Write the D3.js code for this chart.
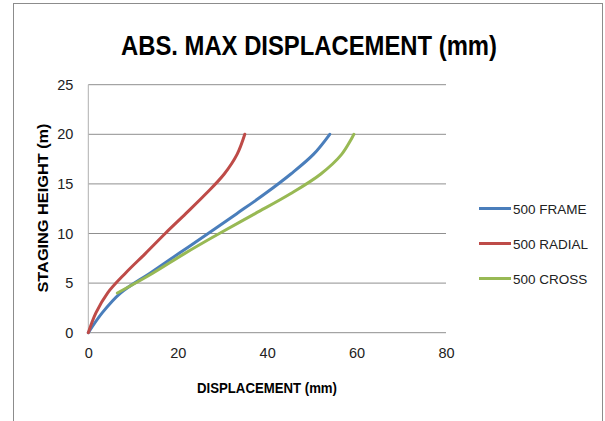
<!DOCTYPE html>
<html>
<head>
<meta charset="utf-8">
<script src="https://cdn.jsdelivr.net/npm/d3@7"></script>
<style>
  body { margin: 0; background: #fff; }
  text { font-family: "Liberation Sans Narrow", "Liberation Sans", "Open Sans", sans-serif; }
</style>
</head>
<body>
<figure id="chart" style="margin:0"></figure>
<script>
// staging heights (m) and displacement (mm)
const heights = [0, 2, 4, 6, 8, 10, 12, 14, 16, 18, 20];
const frameX  = [0, 3.1, 7.2, 13.8, 20.3, 26.8, 33.2, 39.5, 45.3, 50.4, 54.0];
const radialX = [0, 1.7, 4.3, 8.3, 12.8, 17.2, 21.8, 26.3, 30.4, 33.3, 35.0];
const crossX  = [null, null, 6.5, 14.4, 21.6, 29.3, 37.3, 45.2, 52.0, 56.7, 59.4];

const seriesNames = ["500 FRAME", "500 RADIAL", "500 CROSS"];
const seriesColors = ["#4a7ebb", "#be4b48", "#98b954"];
const xTicks = [0, 20, 40, 60, 80];
const yTicks = [0, 5, 10, 15, 20, 25];

const width = 605, height = 421;
const plot = { left: 88.3, right: 446, top: 84.7, bottom: 332.7 };

const svg = d3.select("figure#chart")
  .append("svg")
  .attr("width", width)
  .attr("height", height);

svg.append("rect")
  .attr("width", width).attr("height", height)
  .attr("fill", "#fff");

// outer chart border
svg.append("rect")
  .attr("x", 13.5).attr("y", 3.5)
  .attr("width", 589).attr("height", 440)
  .attr("fill", "none")
  .attr("stroke", "#8c8c8c")
  .attr("stroke-width", 1);

const x = d3.scaleLinear().domain([0, 80]).range([plot.left, plot.right]);
const y = d3.scaleLinear().domain([0, 25]).range([plot.bottom, plot.top]);

// gridlines
svg.append("g")
  .selectAll("line")
  .data(yTicks)
  .enter()
  .append("line")
  .attr("x1", plot.left).attr("x2", plot.right)
  .attr("y1", d => y(d)).attr("y2", d => y(d))
  .attr("stroke", "#8f8f8f")
  .attr("stroke-width", 1);

// left axis
svg.append("line")
  .attr("x1", plot.left).attr("x2", plot.left)
  .attr("y1", plot.top).attr("y2", plot.bottom)
  .attr("stroke", "#b0b0b0");

const yAxis = svg.append("g")
  .attr("transform", "translate(" + plot.left + ",0)")
  .call(d3.axisLeft(y).tickValues(yTicks).tickSize(0).tickPadding(15));
yAxis.select(".domain").remove();
yAxis.selectAll("text")
  .attr("font-size", 14.5)
  .attr("fill", "#222")
  .style("font-family", '"Liberation Sans Narrow", "Liberation Sans", sans-serif');

const xAxis = svg.append("g")
  .attr("transform", "translate(0," + plot.bottom + ")")
  .call(d3.axisBottom(x).tickValues(xTicks).tickSize(0).tickPadding(15));
xAxis.select(".domain").remove();
xAxis.selectAll("text")
  .attr("font-size", 14.5)
  .attr("fill", "#222")
  .style("font-family", '"Liberation Sans Narrow", "Liberation Sans", sans-serif');

// series lines
const seriesX = [frameX, radialX, crossX];
const line = d3.line()
  .defined(d => d[0] != null)
  .x(d => x(d[0]))
  .y(d => y(d[1]))
  .curve(d3.curveCatmullRom.alpha(0.5));

seriesX.forEach((vals, i) => {
  const pts = vals.map((v, j) => [v, heights[j]]).filter(d => d[0] != null);
  svg.append("path")
    .datum(pts)
    .attr("d", line)
    .attr("fill", "none")
    .attr("stroke", seriesColors[i])
    .attr("stroke-width", 3)
    .attr("stroke-linecap", "round");
});

// title
svg.append("text")
  .attr("x", 309).attr("y", 55)
  .attr("text-anchor", "middle")
  .attr("font-size", 27)
  .attr("font-weight", "bold")
  .attr("textLength", 376)
  .attr("lengthAdjust", "spacingAndGlyphs")
  .text("ABS. MAX DISPLACEMENT (mm)");

// axis titles
svg.append("text")
  .attr("x", 267).attr("y", 393)
  .attr("text-anchor", "middle")
  .attr("font-size", 14)
  .attr("font-weight", "bold")
  .attr("textLength", 140)
  .attr("lengthAdjust", "spacingAndGlyphs")
  .text("DISPLACEMENT (mm)");

svg.append("text")
  .attr("transform", "translate(48,208) rotate(-90)")
  .attr("text-anchor", "middle")
  .attr("font-size", 14)
  .attr("font-weight", "bold")
  .attr("textLength", 169)
  .attr("lengthAdjust", "spacingAndGlyphs")
  .text("STAGING HEIGHT (m)");

// legend
const legend = svg.append("g")
  .selectAll("g")
  .data(seriesNames)
  .enter()
  .append("g")
  .attr("transform", (d, i) => "translate(479," + (208.5 + i * 35) + ")");

legend.append("line")
  .attr("x1", 0).attr("x2", 32)
  .attr("stroke", (d, i) => seriesColors[i])
  .attr("stroke-width", 3);

legend.append("text")
  .attr("x", 34).attr("y", 5)
  .attr("font-size", 13.5)
  .attr("fill", "#222")
  .text(d => d);
</script>
</body>
</html>
